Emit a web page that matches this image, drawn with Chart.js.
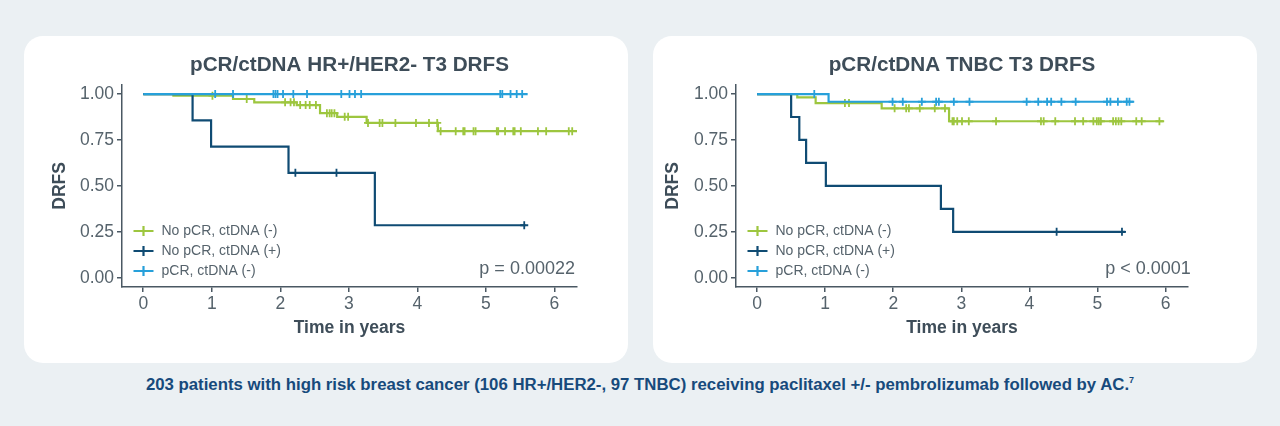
<!DOCTYPE html>
<html>
<head>
<meta charset="utf-8">
<title>pCR/ctDNA DRFS</title>
<script src="https://cdn.jsdelivr.net/npm/chart.js@4.4.1/dist/chart.umd.min.js"></script>
<style>
    body {
        margin: 0;
        width: 1280px;
        height: 426px;
        background: #ebf0f3;
        position: relative;
        overflow: hidden;
        font-family: "Liberation Sans", Arial, sans-serif;
    }
    .card {
        position: absolute;
        top: 36px;
        width: 604px;
        height: 327px;
        background: #ffffff;
        border-radius: 19px;
        overflow: hidden;
    }
    #card-hr { left: 24px; }
    #card-tnbc { left: 653px; }
    .card canvas { display: block; }
    .caption {
        position: absolute;
        top: 375px;
        left: 0;
        width: 1280px;
        text-align: center;
        font-size: 16.8px;
        font-weight: bold;
        color: #174a7c;
    }
    .caption sup { font-size: 9px; vertical-align: 7px; line-height: 0; }
</style>
</head>
<body>

<div class="card" id="card-hr"><canvas id="chartHr" width="604" height="327"></canvas></div>
<div class="card" id="card-tnbc"><canvas id="chartTnbc" width="604" height="327"></canvas></div>
<div class="caption">203 patients with high risk breast cancer (106 HR+/HER2-, 97 TNBC) receiving paclitaxel +/- pembrolizumab followed by AC.<sup>7</sup></div>

<script>
// --- Axis ticks & labels ---
const X_TICKS = [0, 1, 2, 3, 4, 5, 6];
const Y_TICKS = [0, 0.25, 0.5, 0.75, 1];
const Y_TICK_LABELS = ['0.00', '0.25', '0.50', '0.75', '1.00'];
const SERIES_LABELS = ['No pCR, ctDNA (-)', 'No pCR, ctDNA (+)', 'pCR, ctDNA (-)'];

// --- HR+/HER2- (event times / survival after each step / censor times) ---
const hrNoPcrNegTimes = [0, 0.44, 1.31, 1.62, 2.24, 2.58, 2.83, 3.26, 4.30, 6.33];
const hrNoPcrNegSurv = [1, 0.991, 0.973, 0.955, 0.940, 0.896, 0.876, 0.843, 0.798, 0.798];
const hrNoPcrNegCensor = [1.01, 1.51, 2.07, 2.15, 2.20, 2.29, 2.37, 2.43, 2.52, 2.68, 2.72, 2.75, 2.79,
    2.94, 2.99, 3.28, 3.45, 3.49, 3.68, 3.98, 4.17, 4.29, 4.34, 4.56, 4.67, 4.69, 4.82, 4.85,
    5.16, 5.18, 5.28, 5.40, 5.42, 5.51, 5.76, 5.88, 6.21, 6.26];

const hrNoPcrPosTimes = [0, 0.72, 0.99, 2.12, 3.38, 5.58];
const hrNoPcrPosSurv = [1, 0.857, 0.714, 0.571, 0.286, 0.286];
const hrNoPcrPosCensor = [2.22, 2.82, 5.56];

const hrPcrNegTimes = [0, 5.61];
const hrPcrNegSurv = [1, 1];
const hrPcrNegCensor = [1.05, 1.31, 1.90, 1.93, 1.96, 2.04, 2.19, 2.39, 2.89, 3.01, 3.09, 3.18,
    5.21, 5.24, 5.36, 5.45, 5.53];

// --- TNBC ---
const tnNoPcrNegTimes = [0, 0.59, 0.86, 1.83, 2.82, 5.98];
const tnNoPcrNegSurv = [1, 0.982, 0.951, 0.922, 0.852, 0.852];
const tnNoPcrNegCensor = [1.29, 1.35, 2.02, 2.19, 2.23, 2.39, 2.61, 2.76, 2.87, 2.89, 2.94, 3.01,
    3.11, 3.51, 4.17, 4.21, 4.38, 4.67, 4.79, 4.94, 4.99, 5.02, 5.05, 5.23, 5.27, 5.31, 5.35,
    5.57, 5.65, 5.91];

const tnNoPcrPosTimes = [0, 0.50, 0.62, 0.72, 1.01, 2.70, 2.88, 5.41];
const tnNoPcrPosSurv = [1, 0.875, 0.75, 0.625, 0.5, 0.375, 0.25, 0.25];
const tnNoPcrPosCensor = [4.40, 5.36];

const tnPcrNegTimes = [0, 1.05, 5.54];
const tnPcrNegSurv = [1, 0.958, 0.958];
const tnPcrNegCensor = [0.84, 1.99, 2.14, 2.42, 2.63, 2.67, 2.89, 3.12, 3.96, 4.13, 4.26, 4.32,
    4.47, 4.68, 5.14, 5.19, 5.30, 5.43, 5.47];

// --- Styles ---
const GREEN = '#9dc63f';
const NAVY = '#0f4b73';
const BLUE = '#27a0da';
const AXIS_COLOR = '#4a5863';
const TEXT_COLOR = '#56636c';
const TITLE_COLOR = '#3e4d59';
const FONT = '"Liberation Sans", Arial, sans-serif';

// KM curve value at time t (last step at or before t)
function survAt(times, surv, t) {
    let v = surv[0];
    for (let i = 0; i < times.length; i++) {
        if (times[i] <= t) v = surv[i];
    }
    return v;
}

// draws the inset legend and the p-value
const kmExtras = {
    id: 'kmExtras',
    afterDraw(chart, args, opts) {
        const { ctx, chartArea, scales } = chart;
        ctx.save();
        ctx.textBaseline = 'middle';
        SERIES_LABELS.forEach((label, i) => {
            const y = chartArea.bottom + opts.rows[i];
            const x0 = chartArea.left + 11.5;
            ctx.strokeStyle = opts.colors[i];
            ctx.lineWidth = 2.2;
            ctx.beginPath();
            ctx.moveTo(x0, y);
            ctx.lineTo(x0 + 20, y);
            ctx.moveTo(x0 + 10, y - 5);
            ctx.lineTo(x0 + 10, y + 5);
            ctx.stroke();
            ctx.fillStyle = TEXT_COLOR;
            ctx.font = '14px ' + FONT;
            ctx.textAlign = 'left';
            ctx.fillText(label, x0 + 28, y);
        });
        ctx.font = '18px ' + FONT;
        ctx.textAlign = 'right';
        ctx.fillStyle = TEXT_COLOR;
        ctx.fillText(opts.pText, scales.x.getPixelForValue(opts.pX), scales.y.getPixelForValue(opts.pY));
        ctx.restore();
    }
};

function makeKM(canvasId, cfg) {
    const ctx = document.getElementById(canvasId);
    const datasets = [];
    cfg.series.forEach((s, i) => {
        datasets.push({
            label: SERIES_LABELS[i],
            data: s.times.map((t, k) => ({ x: t, y: s.surv[k] })),
            borderColor: s.color,
            borderWidth: 2.2,
            stepped: 'before',
            pointRadius: 0,
            fill: false,
            order: s.order * 2 + 1
        });
        datasets.push({
            label: SERIES_LABELS[i] + ' censored',
            data: s.censor.map(t => ({ x: t, y: survAt(s.times, s.surv, t) })),
            showLine: false,
            pointStyle: 'cross',
            pointRadius: 4,
            pointBorderColor: s.color,
            pointBorderWidth: 1.8,
            borderColor: s.color,
            order: s.order * 2
        });
    });

    return new Chart(ctx, {
        type: 'line',
        data: { datasets: datasets },
        plugins: [kmExtras],
        options: {
            responsive: false,
            animation: false,
            layout: { padding: { left: 0, right: cfg.padRight, top: 0, bottom: 0 } },
            plugins: {
                legend: { display: false },
                tooltip: { enabled: false },
                title: {
                    display: true,
                    text: cfg.title,
                    fullSize: false,
                    color: TITLE_COLOR,
                    font: { family: FONT, size: 20.7, weight: 'bold', lineHeight: 1.2 },
                    padding: { top: 17, bottom: 7 }
                },
                kmExtras: {
                    pText: cfg.pText, pX: cfg.pX, pY: 0.05,
                    rows: [-56, -36, -16],
                    colors: cfg.series.map(s => s.color)
                }
            },
            scales: {
                x: {
                    type: 'linear',
                    min: -0.31,
                    max: 6.33,
                    afterBuildTicks: s => { s.ticks = X_TICKS.map(v => ({ value: v })); },
                    afterFit: s => { s.height = 76; },
                    border: { display: true, color: AXIS_COLOR, width: 1.5 },
                    grid: { display: true, drawOnChartArea: false, drawTicks: true, tickLength: 5, color: AXIS_COLOR, lineWidth: 1.5 },
                    ticks: { color: TEXT_COLOR, font: { family: FONT, size: 17.5 }, padding: 2, maxRotation: 0, callback: v => String(v) },
                    title: {
                        display: true, text: 'Time in years', color: TITLE_COLOR,
                        font: { family: FONT, size: 17.5, weight: 'bold', lineHeight: 1.2 },
                        padding: { top: 0, bottom: 24 }
                    }
                },
                y: {
                    type: 'linear',
                    min: -0.05,
                    max: 1.05,
                    afterBuildTicks: s => { s.ticks = Y_TICKS.map(v => ({ value: v })); },
                    afterFit: s => { s.width = cfg.areaLeft; },
                    border: { display: true, color: AXIS_COLOR, width: 1.5 },
                    grid: { display: true, drawOnChartArea: false, drawTicks: true, tickLength: 5, color: AXIS_COLOR, lineWidth: 1.5 },
                    ticks: { color: TEXT_COLOR, font: { family: FONT, size: 17.5 }, padding: 3, callback: v => Y_TICK_LABELS[Y_TICKS.indexOf(v)] },
                    title: {
                        display: true, text: 'DRFS', color: TITLE_COLOR,
                        font: { family: FONT, size: 17.5, weight: 'bold', lineHeight: 1.2 },
                        padding: { top: cfg.yTitlePad, bottom: 0 }
                    }
                }
            }
        }
    });
}

makeKM('chartHr', {
    title: 'pCR/ctDNA HR+/HER2- T3 DRFS',
    pText: 'p = 0.00022', pX: 6.30,
    areaLeft: 98, padRight: 51, yTitlePad: 25.5,
    series: [
        { times: hrNoPcrNegTimes, surv: hrNoPcrNegSurv, censor: hrNoPcrNegCensor, color: GREEN, order: 2 },
        { times: hrNoPcrPosTimes, surv: hrNoPcrPosSurv, censor: hrNoPcrPosCensor, color: NAVY, order: 1 },
        { times: hrPcrNegTimes, surv: hrPcrNegSurv, censor: hrPcrNegCensor, color: BLUE, order: 0 }
    ]
});

makeKM('chartTnbc', {
    title: 'pCR/ctDNA TNBC T3 DRFS',
    pText: 'p < 0.0001', pX: 6.37,
    areaLeft: 83, padRight: 69, yTitlePad: 9.5,
    series: [
        { times: tnNoPcrNegTimes, surv: tnNoPcrNegSurv, censor: tnNoPcrNegCensor, color: GREEN, order: 2 },
        { times: tnNoPcrPosTimes, surv: tnNoPcrPosSurv, censor: tnNoPcrPosCensor, color: NAVY, order: 1 },
        { times: tnPcrNegTimes, surv: tnPcrNegSurv, censor: tnPcrNegCensor, color: BLUE, order: 0 }
    ]
});
</script>
</body>
</html>
